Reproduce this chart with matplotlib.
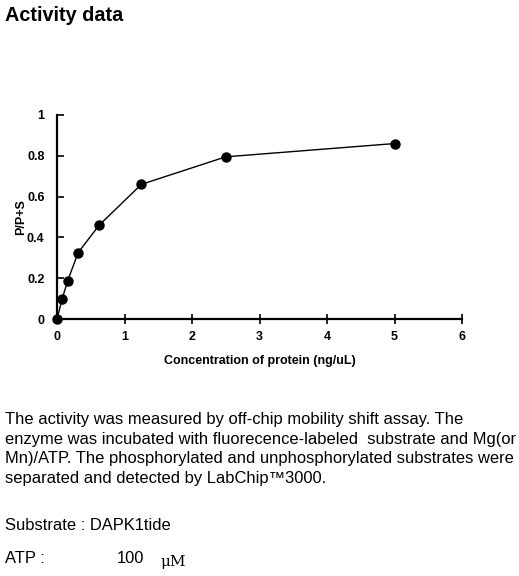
import matplotlib
matplotlib.use("Agg")
import matplotlib.pyplot as plt

conc = [0, 0.078, 0.156, 0.3125, 0.625, 1.25, 2.5, 5]
ratio = [0, 0.10, 0.185, 0.325, 0.46, 0.66, 0.795, 0.86]
xticks = [0, 1, 2, 3, 4, 5, 6]
yticks = [0, 0.2, 0.4, 0.6, 0.8, 1]
yticklabels = ["0", "0.2", "0.4", "0.6", "0.8", "1"]

plt.rcParams['font.family'] = ['Liberation Sans', 'DejaVu Sans']

W, H = 519, 576
fig = plt.figure(figsize=(W/100, H/100), dpi=100)

ax = fig.add_axes([57/W, 1-319/H, (462-57)/W, (319-115)/H])
ax.plot(conc, ratio, color='black', lw=1.0, marker='o', ms=6.5, mfc='black', mec='black', clip_on=False, zorder=3)
ax.set_xlim(0, 6)
ax.set_ylim(0, 1)
ax.set_xticks(xticks)
ax.set_yticks(yticks)
ax.set_yticklabels(yticklabels)
for s in ['top', 'right']:
    ax.spines[s].set_visible(False)
for s in ['left', 'bottom']:
    ax.spines[s].set_linewidth(1.6)
ax.tick_params(axis='x', direction='inout', length=7, width=1.2, pad=5, labelsize=9)
ax.tick_params(axis='y', direction='in', length=5, width=1.2, pad=9, labelsize=9)
for lab in ax.get_xticklabels() + ax.get_yticklabels():
    lab.set_fontweight('bold')
ax.set_xlabel("Concentration of protein (ng/uL)", fontsize=9, fontweight='bold', labelpad=9)
ax.set_ylabel("P/P+S", fontsize=9, fontweight='bold', labelpad=0)

def t(x, y, s, **kw):
    fig.text(x/W, 1-y/H, s, va='baseline', ha='left', **kw)

t(5, 21, "Activity data", fontsize=14.3, fontweight='bold')
lines = [
    "The activity was measured by off-chip mobility shift assay. The",
    "enzyme was incubated with fluorecence-labeled  substrate and Mg(or",
    "Mn)/ATP. The phosphorylated and unphosphorylated substrates were",
    "separated and detected by LabChip\u21223000.",
]
for i, ln in enumerate(lines):
    t(5, 424 + i*19.7, ln, fontsize=11.85)
t(5, 530, "Substrate : DAPK1tide", fontsize=11.85)
t(5, 563, "ATP :", fontsize=11.85)
t(117, 563, "100", fontsize=11.85)
t(160, 566, "\u03bcM", fontsize=11, family=['DejaVu Serif'])

fig.savefig("out.png", dpi=100)
